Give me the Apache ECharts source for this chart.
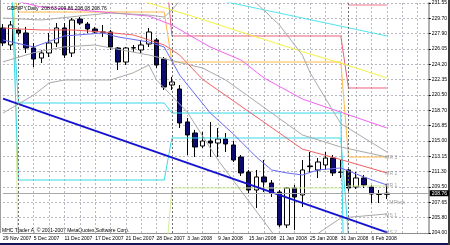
<!DOCTYPE html>
<html><head><meta charset="utf-8">
<script src="https://cdn.jsdelivr.net/npm/echarts@6/dist/echarts.min.js"></script>
<style>html,body{margin:0;padding:0;background:#fff}#c{width:450px;height:245px}</style>
</head><body><div id="c"></div>
<script>
// ---- data ----
const symbolName = 'GBPJPY';
const dates = ['29 Nov 2007','30 Nov 2007','3 Dec 2007','4 Dec 2007','5 Dec 2007','6 Dec 2007','7 Dec 2007','10 Dec 2007','11 Dec 2007','12 Dec 2007','13 Dec 2007','14 Dec 2007','17 Dec 2007','18 Dec 2007','19 Dec 2007','20 Dec 2007','21 Dec 2007','24 Dec 2007','26 Dec 2007','27 Dec 2007','28 Dec 2007','31 Dec 2007','1 Jan 2008','2 Jan 2008','3 Jan 2008','4 Jan 2008','7 Jan 2008','8 Jan 2008','9 Jan 2008','10 Jan 2008','11 Jan 2008','14 Jan 2008','15 Jan 2008','16 Jan 2008','17 Jan 2008','18 Jan 2008','21 Jan 2008','22 Jan 2008','23 Jan 2008','24 Jan 2008','25 Jan 2008','28 Jan 2008','29 Jan 2008','30 Jan 2008','31 Jan 2008','1 Feb 2008','4 Feb 2008','5 Feb 2008','6 Feb 2008','7 Feb 2008','8 Feb 2008'];
const open  = [228.56,226.52,228.32,227.96,226.16,224.96,225.56,226.76,228.56,225.56,229.63,229.03,228.44,228.08,228.08,226.16,224.48,226.16,225.92,226.64,227.12,224.84,221.73,221.25,217.30,215.98,214.42,215.02,214.78,215.26,214.54,213.10,211.31,209.15,210.71,209.99,208.91,204.96,209.39,208.55,212.03,211.55,212.15,212.98,211.31,211.55,209.51,210.59,209.51,208.67,208.63];
const close = [226.76,228.92,227.96,226.16,224.84,225.56,226.76,228.56,225.32,229.51,229.15,228.44,228.08,228.04,226.28,224.48,226.16,226.20,226.52,228.08,224.12,221.49,222.09,217.18,215.74,214.30,215.02,214.78,215.26,214.66,212.74,211.19,209.15,210.71,210.11,208.79,204.96,209.39,208.31,211.55,211.95,212.51,212.98,211.19,211.25,209.39,210.59,209.75,208.67,208.63,208.76];
const low   = [226.40,225.92,227.72,225.56,223.88,224.36,225.08,226.28,224.96,225.08,228.92,227.96,227.96,227.48,225.92,223.52,224.12,225.68,225.56,226.28,223.76,221.13,221.13,216.58,213.34,213.10,214.18,213.10,213.10,213.70,212.51,210.83,208.79,206.99,208.91,208.31,204.72,204.60,204.36,207.11,211.19,210.59,211.55,210.83,210.59,209.03,209.27,209.39,207.59,207.59,208.08];
const high  = [229.03,229.39,228.56,228.68,226.76,225.92,227.96,229.15,229.15,229.75,229.87,229.27,228.68,228.92,228.32,226.28,226.28,226.52,227.12,228.56,227.36,225.08,222.69,221.73,217.77,216.34,216.10,217.30,216.58,215.98,215.02,213.34,211.55,211.55,212.74,210.35,209.15,209.51,209.75,212.74,213.70,212.98,213.70,213.34,212.74,211.79,211.31,210.95,209.75,209.15,209.86];
const yTickLabels = ['204.00','205.80','207.65','209.50','211.30','213.15','215.00','216.85','218.70','220.50','222.35','224.20','226.05','227.90','229.70','231.55'];
// indicator lines: [bar index, price]
const maRed  = [[0,228.56],[2,228.44],[5,228.32],[9,228.32],[13,228.08],[17,227.72],[19,227.12],[21,226.52],[23,225.32],[26,222.40],[32,218.55],[39,214.05],[44,212.80],[50,211.19]];
const maBlue = [[0,227.12],[4,226.28],[8,227.60],[13,227.96],[15,227.48],[19,226.88],[21,226.28],[23,222.93],[27,218.37],[30,215.86],[33,213.10],[35,211.55],[37,211.19],[39,210.95],[41,211.55],[44,211.79],[47,210.71],[50,209.75]];
const bbUpper = [[0,229.75],[5,229.51],[10,230.00],[14,230.35],[19,230.11],[21,229.87],[22,230.71],[23,231.79],[25,233.20],[28,234.00],[31,233.00],[33,231.55],[36,228.92],[39,225.30],[40,223.20],[43,218.60],[44,217.10],[50,213.70]];
const bbMid   = [[0,224.50],[4,225.60],[8,226.30],[12,226.52],[19,225.32],[26,223.76],[29,222.33],[39,215.74],[44,214.30],[50,213.10]];
const bbLower = [[0,218.37],[4,220.53],[6,221.97],[8,222.33],[14,222.33],[17,223.20],[19,224.12],[20,222.33],[24,218.49],[28,212.74],[36,202.92],[37,202.50],[40,203.30],[44,205.80],[50,206.28]];
const maMagenta = [[0,232.15],[5,231.07],[10,230.71],[19,229.99],[22,228.92],[24,227.84],[27,226.28],[31,224.72],[34,222.57],[39,220.05],[50,216.58]];
const maYellow  = [[10,234.30],[19,231.55],[25,229.87],[32,227.78],[39,225.72],[44,224.36],[50,222.57]];
const maCyan    = [[20,233.50],[28,231.90],[39,229.75],[50,227.60]];
const trendLine = [[0,220.10],[50,204.08]];
const pivOrange = [[0,234.00],[1,234.00],[2,230.47],[21,230.47],[22,224.48],[44,224.48],[45,213.10],[50,213.10]];
const pivCyanA  = [[0,234.70],[1,234.70],[2,219.57],[21,219.57],[22,218.37],[44,218.37],[45,170.00]];
const pivCyanB  = [[0,237.10],[1,237.10],[2,210.35],[21,210.35],[22,215.38],[44,215.38],[45,203.50]];
const pivLime   = [[0,261.00],[1,261.00],[2,198.40],[21,198.40],[22,209.39],[44,209.39],[45,209.63],[50,209.63]];
const pivPinkA  = [[0,238.00],[21,237.50],[22,227.60],[44,227.60],[45,221.37],[50,221.37]];
const pivPinkB  = [[44,236.00],[45,231.31],[50,231.31]];
const pivotNames  = ['MR 3','MR 2','MR 1','MPivot','MS 1','MS 2'];
const pivotLevels = [212.98,211.07,209.63,207.59,206.04,204.00];
const separators = [2,22,45];
const bid = close[close.length-1];

// ---- chart ----
const FONT = 'Liberation Sans';
const last = dates.length - 1;
const chart = echarts.init(document.getElementById('c'), null, {renderer:'canvas'});
function line(data, color, width, z) {
  return {type:'line', data, symbol:'none', silent:true, animation:false, clip:true,
    z: z || 3, lineStyle:{color, width: width || 1}};
}
const gridStyle = {color:'#b8b8c4', type:[2,2], width:1};
chart.setOption({
  animation:false,
  backgroundColor:'#fff',
  title:{text: symbolName + ',Daily  ' + [open[last],high[last],low[last],close[last]].map(v=>v.toFixed(2)).join(' '),
    left:2, top:1, textStyle:{fontSize:5, fontWeight:'normal', color:'#000', fontFamily:FONT}},
  grid:{left:1.7, right:21, top:3, bottom:12, containLabel:false},
  xAxis:{type:'value', min:0, max:55.45, interval:2,
    axisLine:{show:true, lineStyle:{color:'#909090', width:1}},
    axisTick:{show:false},
    axisLabel:{show:true, fontSize:5, fontFamily:FONT, color:'#000', margin:3, align:'left',
      showMaxLabel:false,
      formatter:v => (Number.isInteger(v) && v % 4 === 0 && dates[v]) ? dates[v] : ''},
    splitLine:{show:true, showMinLine:false, showMaxLine:false, lineStyle:gridStyle}},
  yAxis:[
    {type:'value', min:204, max:231.55, show:false, position:'right'},
    {type:'value', min:0, max:15, interval:1, position:'right',
      axisLine:{show:true, lineStyle:{color:'#b0b0b0', width:2}},
      axisTick:{show:true, length:2, lineStyle:{color:'#000'}},
      axisLabel:{fontSize:5, fontFamily:FONT, color:'#000', margin:3, formatter:v => yTickLabels[v]},
      splitLine:{show:true, lineStyle:gridStyle}}
  ],
  series:[
    {type:'candlestick', z:2, barWidth:5, animation:false, silent:true, clip:false,
      data: dates.map((d,i)=>[i, open[i], close[i], low[i], high[i]]),
      itemStyle:{color:'#ffffff', color0:'#0a0a70', borderColor:'#000', borderColor0:'#000', borderWidth:1},
      markLine:{symbol:'none', silent:true, animation:false,
        data:[{yAxis:bid}],
        lineStyle:{color:'#a8a8a8', type:'solid', width:1},
        label:{show:true, position:'end', distance:1, formatter:bid.toFixed(2), backgroundColor:'#000', color:'#fff',
          fontSize:5, fontFamily:FONT, padding:[1,2,0,2]}}},
    Object.assign(line([], '#000', 1), {markLine:{symbol:'none', silent:true, animation:false,
        data: separators.map(s=>({xAxis:s})), label:{show:false},
        lineStyle:{color:'#707070', type:[2,2], width:1}}}),
    line(pivLime, '#d4ec9c'),
    line(pivCyanA, '#3ad8ea'),
    line(pivCyanB, '#3ad8ea'),
    line(pivOrange, '#ffb84a'),
    line(pivPinkA, '#e8607c'),
    line(pivPinkB, '#f07890'),
    line(maCyan, '#50e4f0'),
    line(maYellow, '#f4f040'),
    line(maMagenta, '#f060f0'),
    line(bbUpper, '#a8a8a8'),
    line(bbMid, '#a8a8a8'),
    line(bbLower, '#a8a8a8'),
    line(maRed, '#f06060'),
    line(maBlue, '#6a6af4'),
    line(trendLine, '#1414d0', 2, 4),
    {type:'scatter', symbolSize:0, silent:true, animation:false, z:5,
      data: pivotNames.map((n,i)=>({name:n, value:[49.8, pivotLevels[i]],
        label: n === 'MPivot' ? {offset:[4,0]} : undefined})),
      label:{show:true, position:'right', distance:0, formatter:'{b}', color:'#8a8a8a', fontSize:5, fontFamily:FONT}}
  ],
  graphic:[
    {type:'rect', shape:{x:0, y:0, width:1, height:233}, style:{fill:'#a0a0a0'}, silent:true},
    {type:'rect', shape:{x:0, y:243, width:450, height:2}, style:{fill:'#14145a'}, silent:true},
    {type:'rect', shape:{x:448, y:0, width:2, height:245}, style:{fill:'#3a3a3a'}, silent:true},
    {type:'text', left:2, top:228, silent:true,
      style:{text:'MHC Trader A, \u00a9 2001-2007 MetaQuotes Software Corp.', fontSize:5, fontFamily:FONT, fill:'#000'}}
  ]
});
</script></body></html>
